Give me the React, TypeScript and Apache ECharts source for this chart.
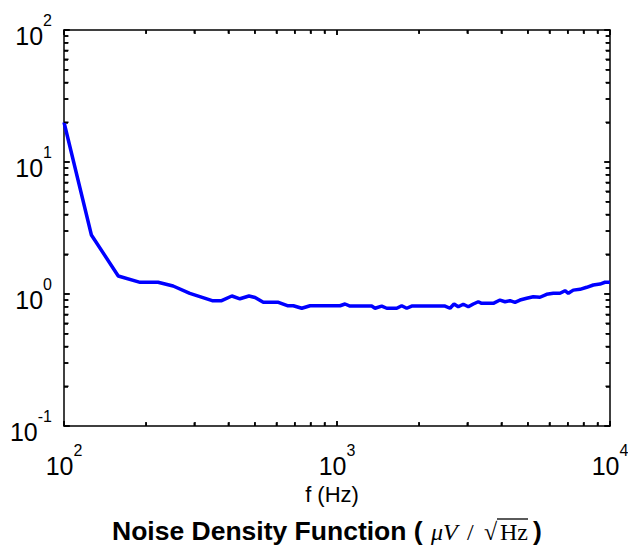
import React, { useEffect, useRef } from 'react';
import * as echarts from 'echarts';

// Frequency (Hz) and noise density (µV/√Hz)
const freqHz = [100, 126, 158, 190, 221, 251, 289, 349, 378, 412, 441, 476, 501, 537, 610, 658, 692, 743, 797, 1026, 1070, 1116, 1340, 1378, 1458, 1521, 1655, 1726, 1800, 1878, 2487, 2594, 2683, 2782, 2901, 3027, 3157, 3293, 3388, 3737, 3954, 4125, 4302, 4487, 4681, 4953, 5236, 5540, 5861, 6198, 6558, 6842, 7036, 7338, 7765, 8217, 8686, 9192, 9588, 10000];
const noiseDensity = [20, 2.8, 1.37, 1.226, 1.226, 1.15, 1.01, 0.89, 0.89, 0.966, 0.92, 0.966, 0.94, 0.865, 0.865, 0.815, 0.815, 0.78, 0.815, 0.815, 0.84, 0.81, 0.81, 0.78, 0.81, 0.78, 0.78, 0.815, 0.78, 0.81, 0.81, 0.78, 0.84, 0.8, 0.836, 0.8, 0.84, 0.874, 0.85, 0.85, 0.9, 0.874, 0.89, 0.865, 0.9, 0.928, 0.954, 0.945, 0.995, 1.012, 1.012, 1.059, 1.012, 1.07, 1.085, 1.124, 1.17, 1.19, 1.227, 1.227];

// Axis ranges and tick values (log decades with minor ticks at 2..9)
const xRange = [100, 10000];
const yRange = [0.1, 100];
const xMajorTicks = [100, 1000, 10000];
const xMinorTicks = [200, 300, 400, 500, 600, 700, 800, 900, 2000, 3000, 4000, 5000, 6000, 7000, 8000, 9000];
const yMajorTicks = [0.1, 1, 10, 100];
const yMinorTicks = [0.2, 0.3, 0.4, 0.5, 0.6, 0.7, 0.8, 0.9, 2, 3, 4, 5, 6, 7, 8, 9, 20, 30, 40, 50, 60, 70, 80, 90];

const xLabelText = 'f (Hz)';
const titleMain = 'Noise Density Function (';
const titleUnitA = 'μV';
const titleUnitB = '/';
const titleUnitC = '√';
const titleUnitD = 'Hz';
const titleEnd = ')';

const SANS = '"Liberation Sans", Arial, Helvetica, sans-serif';
const SERIF = '"Liberation Serif", "DejaVu Serif", "Times New Roman", serif';

const powLabel = (v: number) => `{b|10}{s|${Math.round(Math.log10(v))}}`;
const labelRich = {
  b: { fontSize: 25, lineHeight: 36, verticalAlign: 'bottom', fontFamily: SANS, color: '#000' },
  s: { fontSize: 16, lineHeight: 16, verticalAlign: 'top', fontFamily: SANS, color: '#000' },
};

const axisParts = () => ({
  axisLine: { show: true, lineStyle: { color: '#000', width: 1.5 } },
  axisTick: { show: true, inside: true, length: 5, lineStyle: { color: '#000', width: 1.5 } },
  minorTick: { show: true, splitNumber: 9, length: 4, lineStyle: { color: '#000', width: 1.5 } },
  splitLine: { show: false },
});

const txt = (id: string, text: string, x: number, y: number, font: string, align = 'left') => ({
  id, type: 'text', x, y, silent: true,
  style: { text, font, fill: '#000', textAlign: align, textVerticalAlign: 'middle', align, verticalAlign: 'middle' },
});

export default function App() {
  const ref = useRef<HTMLDivElement>(null);
  useEffect(() => {
    if (!ref.current) return;
    const chart = echarts.init(ref.current, undefined, { renderer: 'svg' });
    const lineData = freqHz.map((f, i) => [f, noiseDensity[i]]);
    const ty = 531;
    const texts: any[] = [
      txt('xl', xLabelText, 332, 494, `22px ${SANS}`, 'center'),
      txt('t0', titleMain, 112, ty, `bold 26.5px ${SANS}`),
      txt('t1', titleUnitA, 431, ty + 1, `italic 24px ${SERIF}`),
      txt('t2', titleUnitB, 467, ty + 1, `24px ${SERIF}`),
      txt('t3', titleUnitC, 484, ty + 1, `24px ${SERIF}`),
      txt('t4', titleUnitD, 500, ty + 1, `24px ${SERIF}`),
      { id: 'ovl', type: 'line', silent: true, shape: { x1: 497, y1: 519, x2: 528, y2: 519 }, style: { stroke: '#000', lineWidth: 1.3 } },
      txt('t5', titleEnd, 533, ty, `bold 26.5px ${SANS}`),
    ];
    try {
      chart.setOption({
        animation: false,
        backgroundColor: '#fff',
        grid: { left: 64, right: 18, top: 30, bottom: 125, containLabel: false, outerBoundsMode: 'none' },
        xAxis: [
          { type: 'log', min: xRange[0], max: xRange[1], position: 'bottom', ...axisParts(), axisLabel: { formatter: powLabel, rich: labelRich, margin: 16 } },
          { type: 'log', min: xRange[0], max: xRange[1], position: 'top', ...axisParts(), axisLabel: { show: false } },
        ],
        yAxis: [
          { type: 'log', min: yRange[0], max: yRange[1], position: 'left', ...axisParts(), axisLabel: { formatter: powLabel, rich: labelRich, margin: 12 } },
          { type: 'log', min: yRange[0], max: yRange[1], position: 'right', ...axisParts(), axisLabel: { show: false } },
        ],
        series: [
          { type: 'line', data: lineData, showSymbol: false, lineStyle: { color: '#0000ff', width: 3.5 } },
        ],
      });
    } catch (e) {
      // continue; ticks below are positioned through the grid's scales
    }
    const ticks: any[] = [];
    try {
      const pt = (x: number, y: number) => chart.convertToPixel({ gridIndex: 0 } as any, [x, y]) as unknown as number[];
      const bl = pt(xRange[0], yRange[0]);
      const tr = pt(xRange[1], yRange[1]);
      const st = { stroke: '#000', lineWidth: 1.5 };
      const addX = (t: number, len: number, k: string) => {
        const p = pt(t, 1);
        if (!p || !isFinite(p[0])) return;
        ticks.push({ id: 'xb' + k, type: 'line', silent: true, z: 50, shape: { x1: p[0], y1: bl[1], x2: p[0], y2: bl[1] - len }, style: st });
        ticks.push({ id: 'xt' + k, type: 'line', silent: true, z: 50, shape: { x1: p[0], y1: tr[1], x2: p[0], y2: tr[1] + len }, style: st });
      };
      const addY = (t: number, len: number, k: string) => {
        const p = pt(1000, t);
        if (!p || !isFinite(p[1])) return;
        ticks.push({ id: 'yl' + k, type: 'line', silent: true, z: 50, shape: { x1: bl[0], y1: p[1], x2: bl[0] + len, y2: p[1] }, style: st });
        ticks.push({ id: 'yr' + k, type: 'line', silent: true, z: 50, shape: { x1: tr[0], y1: p[1], x2: tr[0] - len, y2: p[1] }, style: st });
      };
      xMajorTicks.forEach((t, i) => addX(t, 5, 'M' + i));
      xMinorTicks.forEach((t, i) => addX(t, 3.5, 'm' + i));
      yMajorTicks.forEach((t, i) => addY(t, 6, 'M' + i));
      yMinorTicks.forEach((t, i) => addY(t, 4.5, 'm' + i));
    } catch (e) {
      // no extra ticks if the conversion fails
    }
    chart.setOption({ graphic: [...texts, ...ticks] });
    return () => chart.dispose();
  }, []);
  return <div ref={ref} style={{ position: 'fixed', left: 0, top: 0, width: 628, height: 551 }} />;
}
